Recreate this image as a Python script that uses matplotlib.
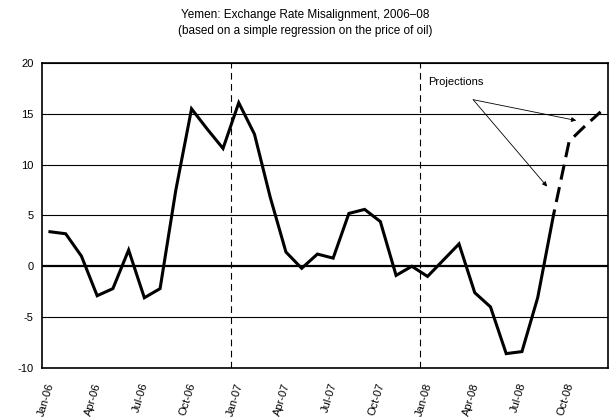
import matplotlib
matplotlib.use("Agg")

import numpy as np
import matplotlib.pyplot as plt
from matplotlib.transforms import ScaledTranslation

# -------------------------------
# DATA
# -------------------------------
months = ["Jan-06", "Feb-06", "Mar-06", "Apr-06", "May-06", "Jun-06",
          "Jul-06", "Aug-06", "Sep-06", "Oct-06", "Nov-06", "Dec-06",
          "Jan-07", "Feb-07", "Mar-07", "Apr-07", "May-07", "Jun-07",
          "Jul-07", "Aug-07", "Sep-07", "Oct-07", "Nov-07", "Dec-07",
          "Jan-08", "Feb-08", "Mar-08", "Apr-08", "May-08", "Jun-08",
          "Jul-08", "Aug-08", "Sep-08", "Oct-08", "Nov-08", "Dec-08"]
misalignment = [3.4, 3.2, 1.0, -2.9, -2.2, 1.6,
                -3.1, -2.2, 7.5, 15.5, 13.5, 11.6,
                16.1, 13.0, 6.8, 1.4, -0.2, 1.2,
                0.8, 5.2, 5.6, 4.4, -0.9, 0.0,
                -1.0, 0.6, 2.2, -2.6, -4.0, -8.6,
                -8.4, -3.1, 5.0, 12.3, 13.8, 15.2]
first_projection = "Sep-08"
year_breaks = ["Jan-07", "Jan-08"]
y_ticks = [-10, -5, 0, 5, 10, 15, 20]

plt.rcParams["font.family"] = ["Liberation Sans", "DejaVu Sans"]
plt.rcParams["axes.unicode_minus"] = False

# categories centred between month boundaries, like the original Excel chart
x = np.arange(len(months)) + 0.5
vals = np.array(misalignment)
k = months.index(first_projection)

fig = plt.figure(figsize=(6.10, 4.18), dpi=100)
ax = fig.add_axes([0.069, 0.12, 0.9285, 0.729])

for t in y_ticks:
    ax.axhline(t, color="black", lw=0.8 if t != 0 else 1.6, zorder=1)

for m in year_breaks:
    ax.axvline(months.index(m), color="black", lw=0.8, ls=(0, (6, 4)), zorder=1)

ax.plot(x[:k + 1], vals[:k + 1], color="black", lw=2.2, zorder=3,
        solid_joinstyle="miter")
ax.plot(x[k:], vals[k:], color="black", lw=2.2, ls=(3, (5, 2.5)), zorder=3)

ax.set_xlim(0, len(months))
ax.set_ylim(-10, 20)
ax.set_yticks(y_ticks)
ax.tick_params(axis="y", length=0, labelsize=8, pad=6)

ax.set_xticks(np.arange(0, len(months), 3))
ax.set_xticklabels(months[::3], rotation=73, ha="center", fontsize=8)
ax.set_xticks(np.arange(6, len(months), 6), minor=True)
ax.tick_params(axis="x", which="major", length=0, pad=10)
ax.tick_params(axis="x", which="minor", direction="in", length=3, width=0.8)
shift = ScaledTranslation(4 / 100, 0, fig.dpi_scale_trans)
for lab in ax.get_xticklabels():
    lab.set_transform(lab.get_transform() + shift)

for s in ax.spines.values():
    s.set_linewidth(1.2)

ax.text(24.55, 18.1, "Projections", fontsize=8, va="center", ha="left")
arrow = dict(arrowstyle="-|>", color="black", lw=0.6, mutation_scale=7,
             shrinkA=0, shrinkB=0)
ax.annotate("", xy=(33.95, 14.35), xytext=(27.4, 16.4), arrowprops=arrow)
ax.annotate("", xy=(32.1, 7.85), xytext=(27.4, 16.4), arrowprops=arrow)

fig.text(0.5, 0.965, "Yemen: Exchange Rate Misalignment, 2006\u201308",
         ha="center", va="center", fontsize=8.5)
fig.text(0.5, 0.926, "(based on a simple regression on the price of oil)",
         ha="center", va="center", fontsize=8.5)

fig.savefig("out.png", dpi=100)
